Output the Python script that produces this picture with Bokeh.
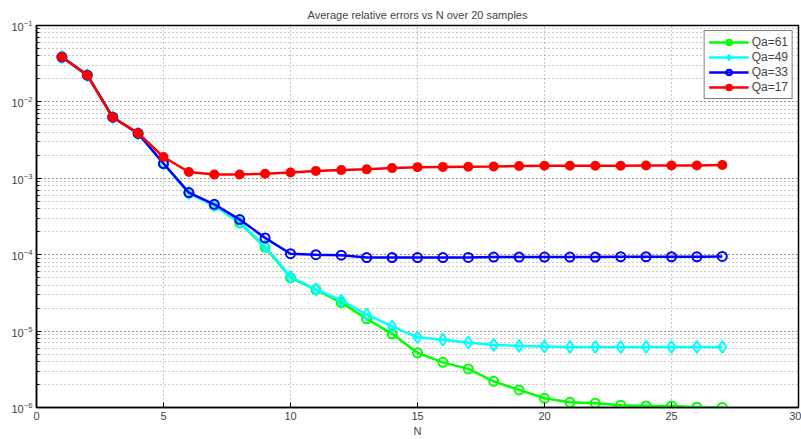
from bokeh.plotting import figure
from bokeh.models import Range1d, SingleIntervalTicker, LogTicker, Legend, LegendItem
from bokeh.embed import file_html
from bokeh.resources import INLINE

N = list(range(1, 28))
qa17 = [0.0386, 0.0224, 0.0063, 0.0039, 0.0019, 0.00121, 0.00112, 0.00112, 0.00115, 0.00119,
        0.00125, 0.00128, 0.00131, 0.00136, 0.0014, 0.00141, 0.00142, 0.00143, 0.00145, 0.00146,
        0.00146, 0.00146, 0.00146, 0.00147, 0.00147, 0.00147, 0.00149]
qa33 = [0.0386, 0.0224, 0.0063, 0.00386, 0.00156, 0.00065, 0.000457, 0.000288, 0.000166, 0.000103,
        0.0001, 0.0000985, 0.0000916, 0.0000916, 0.0000916, 0.0000916, 0.000092, 0.000093, 0.000093, 0.000093,
        0.000093, 0.000093, 0.000094, 0.000094, 0.000094, 0.000094, 0.000095]
qa49 = [0.0386, 0.0224, 0.0063, 0.00386, 0.00156, 0.00064, 0.00044, 0.000266, 0.000129, 0.0000513,
        0.0000352, 0.0000252, 0.0000165, 0.0000115, 0.0000083, 0.0000077, 0.0000071, 0.0000066, 0.0000064, 0.0000063,
        0.0000062, 0.0000062, 0.0000062, 0.0000062, 0.0000062, 0.0000062, 0.0000062]
qa61 = [0.0386, 0.0224, 0.0063, 0.00386, 0.00156, 0.00064, 0.00044, 0.000262, 0.000125, 0.00005,
        0.000035, 0.0000236, 0.0000145, 0.0000092, 0.0000052, 0.0000039, 0.0000032, 0.0000022, 0.0000017, 0.00000132,
        0.00000117, 0.00000114, 0.00000107, 0.00000105, 0.00000105, 0.00000101, 0.000001]

FONT = "Liberation Sans"

p = figure(width=801, height=439, y_axis_type="log", output_backend="svg", toolbar_location=None,
           x_range=Range1d(0, 30), y_range=Range1d(1e-6, 1e-1),
           min_border_left=36, min_border_right=3, min_border_top=25, min_border_bottom=32)
p.title.text = "Average relative errors vs N over 20 samples"
p.title.align = "center"
p.title.text_font = FONT
p.title.text_font_size = "11px"
p.title.text_font_style = "normal"
p.title.offset = 0

p.outline_line_color = "black"
p.outline_line_width = 1.5

p.xaxis.ticker = SingleIntervalTicker(interval=5, num_minor_ticks=0)
p.xaxis.axis_label = "N"
p.xaxis.axis_label_text_font = FONT
p.xaxis.axis_label_text_font_size = "11px"
p.xaxis.axis_label_text_font_style = "normal"
p.xaxis.axis_label_standoff = 2
p.yaxis.ticker = LogTicker(num_minor_ticks=10)
for ax in (p.xaxis[0], p.yaxis[0]):
    ax.major_label_text_font = FONT
    ax.major_label_text_font_size = "11px"
    ax.major_tick_in = 5
    ax.major_tick_out = 0
    ax.minor_tick_in = 3
    ax.minor_tick_out = 0
    ax.axis_line_width = 1.5
    ax.major_label_standoff = 4

for g in (p.xgrid, p.ygrid):
    g.grid_line_color = "#777777"
    g.grid_line_alpha = 0.8
    g.grid_line_dash = "1 3"
p.ygrid.minor_grid_line_color = "#777777"
p.ygrid.minor_grid_line_alpha = 0.8
p.ygrid.minor_grid_line_dash = "1 3"

items = []
specs = [("Qa=61", qa61, "#00ff00", "circle", False, 9),
         ("Qa=49", qa49, "#00ffff", "diamond", False, 12),
         ("Qa=33", qa33, "#0000ff", "circle", False, 9),
         ("Qa=17", qa17, "#ff0000", "circle", True, 8)]
for label, ys, col, marker, filled, sz in specs:
    r1 = p.line(N, ys, line_color=col, line_width=2.5)
    r2 = p.scatter(N, ys, marker=marker, size=sz, line_color=col, line_width=2,
                   fill_color=col if filled else None)
    items.append(LegendItem(label=label, renderers=[r1, r2]))

leg = Legend(items=items, location="top_right")
leg.label_text_font = FONT
leg.label_text_font_size = "12px"
leg.border_line_color = "black"
leg.border_line_width = 1.5
leg.glyph_width = 40
leg.glyph_height = 14
leg.label_standoff = 3
leg.spacing = 1
leg.padding = 4
leg.margin = 5
leg.label_height = 14
p.add_layout(leg)

open("out.html", "w").write(file_html(p, INLINE))
